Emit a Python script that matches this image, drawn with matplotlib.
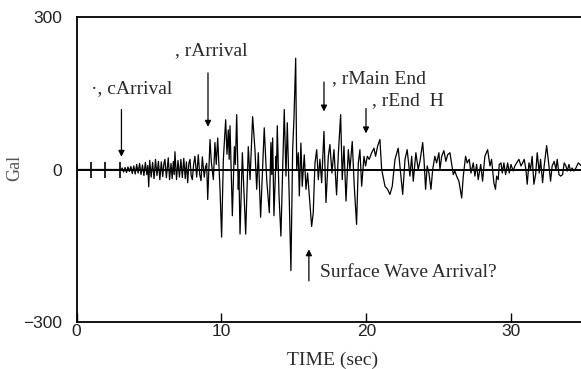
import matplotlib
matplotlib.use("Agg")
import matplotlib.pyplot as plt

# ---- data ----
time_s = [0, 3.1, 3.15, 3.25, 3.35, 3.45, 3.55, 3.65, 3.75, 3.85, 3.95, 4.05, 4.15, 4.25, 4.35, 4.45,
          4.55, 4.65, 4.75, 4.85, 4.92, 4.98, 5.05, 5.15, 5.25, 5.35, 5.45, 5.55, 5.65, 5.75, 5.85,
          5.95, 6.03, 6.1, 6.2, 6.33, 6.42, 6.52, 6.6, 6.68, 6.74, 6.79, 6.9, 7.0, 7.1, 7.2, 7.3,
          7.4, 7.5, 7.58, 7.67, 7.75, 7.83, 7.91, 7.99, 8.08, 8.17, 8.29, 8.4, 8.5, 8.59, 8.68,
          8.81, 8.9, 8.98, 9.05, 9.21, 9.3, 9.44, 9.55, 9.64, 9.74, 9.9, 10.01, 10.13, 10.29,
          10.38, 10.47, 10.53, 10.59, 10.75, 10.89, 10.96, 11.05, 11.16, 11.2, 11.28, 11.44, 11.5,
          11.67, 11.85, 11.97, 12.15, 12.31, 12.43, 12.54, 12.7, 12.95, 13.12, 13.3, 13.41, 13.47,
          13.53, 13.62, 13.76, 13.8, 13.85, 13.97, 14.1, 14.2, 14.26, 14.33, 14.45, 14.54, 14.66,
          14.79, 14.91, 15.0, 15.12, 15.19, 15.3, 15.37, 15.48, 15.57, 15.71, 15.83, 15.94, 16.06,
          16.22, 16.33, 16.45, 16.57, 16.68, 16.79, 16.91, 17.07, 17.21, 17.37, 17.48, 17.62,
          17.76, 17.94, 18.06, 18.22, 18.33, 18.45, 18.59, 18.75, 18.86, 19.02, 19.16, 19.32,
          19.44, 19.55, 19.67, 19.83, 19.94, 20.06, 20.19, 20.36, 20.52, 20.63, 20.77, 20.93,
          21.05, 21.28, 21.46, 21.62, 21.78, 21.97, 22.19, 22.36, 22.5, 22.66, 22.81, 23.0,
          23.12, 23.23, 23.41, 23.57, 23.69, 23.88, 23.97, 24.08, 24.19, 24.31, 24.45, 24.57,
          24.72, 24.84, 25.0, 25.07, 25.19, 25.34, 25.48, 25.6, 25.76, 25.88, 25.99, 26.1, 26.22,
          26.38, 26.57, 26.68, 26.84, 26.95, 27.09, 27.21, 27.37, 27.48, 27.6, 27.71, 27.88,
          28.01, 28.17, 28.36, 28.52, 28.63, 28.79, 28.9, 28.98, 29.09, 29.16, 29.28, 29.37,
          29.48, 29.6, 29.74, 29.85, 29.97, 30.12, 30.24, 30.36, 30.52, 30.66, 30.77, 30.88,
          31.0, 31.09, 31.21, 31.32, 31.43, 31.55, 31.67, 31.78, 31.92, 32.01, 32.15, 32.26,
          32.43, 32.59, 32.7, 32.81, 32.95, 33.07, 33.16, 33.28, 33.39, 33.53, 33.64, 33.76,
          33.85, 33.97, 34.08, 34.19, 34.31, 34.45, 34.61, 34.72, 34.9]
accel_gal = [0, 0, 3, -5, 4, -6, 5, -4, 6, -8, 7, -9, 10, -7, 12, -10,
             9, -12, 14, -10, 8, -34, 18, -15, 14, -18, 20, -12, 16, -20, 15,
             -14, 12, 20, -16, 23, -20, 12, -18, 16, -10, 35, -20, 18, -15, 20, -16,
             22, -18, 15, -26, 12, 20, -12, -20, 10, 26, -15, 29, -10, -22, 25,
             -15, 5, 12, -59, 59, 15, -20, 53, 10, 62, -39, -133, 20, 98,
             30, 78, 20, 86, -91, 45, 10, 108, -39, 0, -127, 33, -10,
             -127, 45, -20, 104, 39, -39, 33, -94, 82, -20, -85, 53, -10,
             62, -91, 26, 0, 86, -52, -131, -20, 39, 118, -13, 92, -39,
             -199, 39, 100, 219, 0, 33, -52, 52, -33, 29, -39, -7, -52,
             -112, -85, 13, 39, -20, 20, -26, 75, -65, 26, 49, -7,
             39, -50, 30, 108, -20, 46, -62, 39, 0, 55, -33, -108,
             13, 39, -33, 26, 7, 26, 20, 33, 42, 26, 46, 59,
             0, -33, -39, -49, -33, 20, 42, -7, -49, 20, 39, -13,
             26, -23, 33, 0, 16, 53, 20, -39, 7, -7, -39, 0,
             26, 13, 33, 0, 26, 37, 16, 29, 33, 10, -10, -3, -13,
             -23, -56, -13, 26, 13, 20, -7, 13, -13, 10, -20, 10,
             -23, 26, 39, 7, 20, -26, -39, -13, -20, 10, 13, -7,
             13, -10, 13, -7, 10, -3, 7, 13, 20, 7, 13, 20,
             0, -29, 13, 0, 26, -29, -10, 33, -7, 20, -26, 7,
             47, 7, -23, 7, 16, 0, 20, -10, -13, -10, 13, 7,
             -3, 10, -3, 3, -3, 3, 13, 10, 5]

zero_line_ticks = [0, 1, 2, 3]
x_ticks = [0, 10, 20, 30]
x_tick_labels = ["0", "10", "20", "30"]
y_ticks = [-300, 0, 300]
y_tick_labels = ["\u2212300", "0", "300"]

# annotations: (text, x, y)
labels = [
    ("\u00b7, cArrival", 1.0, 159),
    (", rArrival", 6.8, 233),
    (", rMain End", 17.6, 178),
    (", rEnd  H", 20.4, 135),
    ("Surface Wave Arrival?", 16.8, -202),
]
# arrows: (x, y_start, y_end)
arrows = [
    (3.1, 118, 25),
    (9.07, 190, 84),
    (17.07, 172, 114),
    (19.97, 120, 71),
    (16.03, -219, -157),
]

W, H = 581, 369
fig = plt.figure(figsize=(W / 100, H / 100), dpi=100)
ax = fig.add_axes([76.5 / W, 1 - 322 / H, 1 - 76.5 / W, (322 - 17) / H])
ax.set_xlim(0, 34.8)
ax.set_ylim(-300, 300)

ax.plot(time_s, accel_gal, color="black", lw=0.9, zorder=3)
ax.axhline(0, color="black", lw=1.4, zorder=4)
ax.plot(zero_line_ticks, [0] * len(zero_line_ticks), ls="none", marker="|",
        ms=11, mew=1.2, color="black", zorder=4)

for s in ["left", "top", "bottom"]:
    ax.spines[s].set_linewidth(1.3)
ax.spines["right"].set_visible(False)

ax.set_xticks(x_ticks)
ax.set_xticklabels(x_tick_labels, fontfamily="Liberation Sans", fontsize=12.5, color="#222222")
ax.set_yticks(y_ticks)
ax.set_yticklabels(y_tick_labels, fontfamily="Liberation Sans", fontsize=12.5, color="#222222")
ax.tick_params(axis="x", direction="in", length=6.5, width=1, pad=1.5)
ax.tick_params(axis="y", length=0, pad=10.5)

serif = "Liberation Serif"
tcol = "#2a2a2a"
for txt, x, y in labels:
    ax.text(x, y, txt, ha="left", va="center", fontfamily=serif, fontsize=14, color=tcol)

for x, y0, y1 in arrows:
    ax.annotate("", xy=(x, y1), xytext=(x, y0),
                arrowprops=dict(arrowstyle="-|>", color="black", lw=0.9,
                                mutation_scale=9, shrinkA=0, shrinkB=0))

fig.text(333 / W, 1 - 360 / H, "TIME (sec)", ha="center", va="center",
         fontfamily=serif, fontsize=14, color=tcol)
fig.text(15 / W, 1 - 168 / H, "Gal", ha="center", va="center", rotation=90,
         fontfamily=serif, fontsize=13, color="#555555")

fig.savefig("out.png", dpi=100)
